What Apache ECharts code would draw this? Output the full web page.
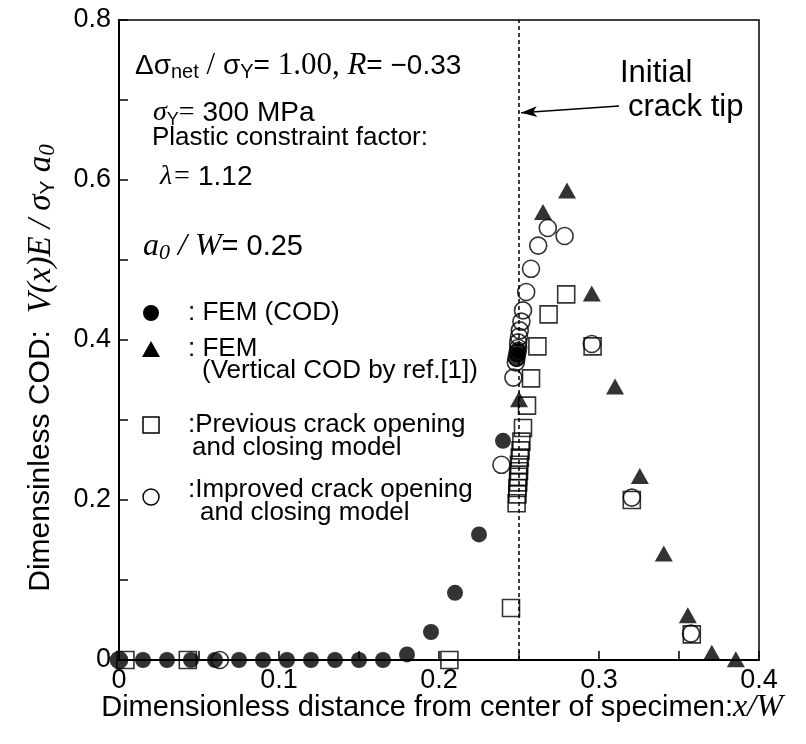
<!DOCTYPE html>
<html>
<head>
<meta charset="utf-8">
<script src="https://cdn.jsdelivr.net/npm/echarts@6/dist/echarts.min.js"></script>
<style>
html,body{margin:0;padding:0;background:#fff;}
#chart{width:806px;height:744px;}
</style>
</head>
<body>
<div id="chart"></div>
<script>
// ---- data ----
var xTicks = [0, 0.1, 0.2, 0.3, 0.4];
var yTicks = [0, 0.2, 0.4, 0.6, 0.8];
var crackTipX = 0.25;
var arrowFrom = [0.3125, 0.6925];
var arrowTo = [0.2513, 0.684];

var femCod = [[0,0],[0.015,0],[0.03,0],[0.045,0],[0.06,0],[0.075,0],[0.09,0],[0.105,0],[0.12,0],[0.135,0],[0.15,0],[0.165,0],[0.18,0.007],[0.195,0.035],[0.21,0.084],[0.225,0.157],[0.24,0.274],[0.2485,0.376],[0.249,0.382],[0.2495,0.388]];
var femVertical = [[0.25,0.326],[0.265,0.56],[0.28,0.587],[0.2955,0.458],[0.31,0.342],[0.3255,0.23],[0.3405,0.133],[0.3555,0.056],[0.3705,0.009],[0.3855,0.001]];
var previousModel = [[0.004,0],[0.043,0],[0.2065,0],[0.245,0.065],[0.2485,0.196],[0.249,0.207],[0.249,0.215],[0.2495,0.222],[0.2495,0.229],[0.25,0.236],[0.25,0.244],[0.2505,0.253],[0.251,0.262],[0.2515,0.273],[0.2525,0.29],[0.255,0.318],[0.2575,0.352],[0.2615,0.392],[0.2685,0.432],[0.2795,0.457],[0.296,0.392],[0.3205,0.2],[0.358,0.032]];
var improvedModel = [[0,0],[0.063,0],[0.239,0.244],[0.2465,0.353],[0.248,0.372],[0.2485,0.378],[0.249,0.384],[0.2495,0.39],[0.2495,0.397],[0.25,0.404],[0.2505,0.412],[0.2515,0.423],[0.2525,0.437],[0.2545,0.46],[0.2575,0.489],[0.262,0.518],[0.268,0.54],[0.2785,0.53],[0.2955,0.395],[0.3205,0.203],[0.3575,0.033]];

// ---- chart ----
var SANS = "'Liberation Sans', Arial, sans-serif";
var SERIF = "'Liberation Serif', 'Times New Roman', serif";
var chart = echarts.init(document.getElementById('chart'), null, {renderer:'canvas'});

function isTick(v, list){ for (var i=0;i<list.length;i++){ if (Math.abs(v-list[i])<1e-6) return true; } return false; }

var richBase = {
  s: {fontFamily: SANS, fontSize: 26, color:'#000', lineHeight: 30},
  s28: {fontFamily: SANS, fontSize: 28, color:'#000', lineHeight: 32},
  s29: {fontFamily: SANS, fontSize: 29, color:'#000', lineHeight: 34},
  s30: {fontFamily: SANS, fontSize: 30, color:'#000', lineHeight: 34},
  sub: {fontFamily: SANS, fontSize: 18, color:'#000', lineHeight: 10, verticalAlign:'bottom'},
  sub20: {fontFamily: SANS, fontSize: 20, color:'#000', lineHeight: 10, verticalAlign:'bottom'},
  sub21: {fontFamily: SANS, fontSize: 21, color:'#000', lineHeight: 10, verticalAlign:'bottom'},
  t: {fontFamily: SERIF, fontSize: 28, color:'#000', lineHeight: 30},
  t31: {fontFamily: SERIF, fontSize: 31, color:'#000', lineHeight: 32},
  ti: {fontFamily: SERIF, fontSize: 28, fontStyle:'italic', color:'#000', lineHeight: 30},
  ti31: {fontFamily: SERIF, fontSize: 31, fontStyle:'italic', color:'#000', lineHeight: 32},
  ti32: {fontFamily: SERIF, fontSize: 32, fontStyle:'italic', color:'#000', lineHeight: 34},
  ti33: {fontFamily: SERIF, fontSize: 33, fontStyle:'italic', color:'#000', lineHeight: 36},
  tisub: {fontFamily: SERIF, fontSize: 20, fontStyle:'italic', color:'#000', lineHeight: 10, verticalAlign:'bottom'},
  tisub22: {fontFamily: SERIF, fontSize: 22, fontStyle:'italic', color:'#000', lineHeight: 10, verticalAlign:'bottom'},
  tisub23: {fontFamily: SERIF, fontSize: 23, fontStyle:'italic', color:'#000', lineHeight: 10, verticalAlign:'bottom'}
};

function txt(x, y, text){
  return {type:'text', x:x, y:y, z:100, silent:true,
    style:{text:text, rich:richBase, align:'left', verticalAlign:'middle', fill:'#000'}};
}
function plain(x, y, text, size){
  return {type:'text', x:x, y:y, z:100, silent:true,
    style:{text:text, align:'left', verticalAlign:'middle', fill:'#000', font: size + 'px ' + SANS}};
}

var graphics = [
  txt(135, 66, '{s28|Δσ}{sub20|net}{t31| / }{s28|σ}{sub20|Y}{s28|= }{t31|1.00, }{ti31|R}{s28|= −0.33}'),
  txt(153, 113, '{ti|σ}{sub|Y}{t|=}{s28| 300 MPa}'),
  txt(152, 138, '{s|Plastic constraint factor:}'),
  txt(160, 177, '{ti|λ= }{s28|1.12}'),
  txt(143, 247, '{ti32|a}{tisub22|0}{ti32| / W}{s29|= 0.25}'),
  plain(620, 73, 'Initial', 31),
  plain(628, 107, 'crack tip', 31),
  // legend
  {type:'circle', shape:{cx:151, cy:313, r:8}, style:{fill:'#000'}, z:100},
  {type:'polygon', shape:{points:[[151,341],[160,357],[142,357]]}, style:{fill:'#000'}, z:100},
  {type:'rect', shape:{x:143, y:417, width:16, height:16}, style:{fill:'none', stroke:'#000', lineWidth:1.5}, z:100},
  {type:'circle', shape:{cx:151, cy:497, r:8}, style:{fill:'none', stroke:'#000', lineWidth:1.5}, z:100},
  txt(188, 313, '{s|: FEM (COD)}'),
  txt(188, 349, '{s|: FEM}'),
  txt(202, 371, '{s|(Vertical COD by ref.[1])}'),
  txt(188, 425, '{s|:Previous crack opening}'),
  txt(192, 448, '{s|and closing model}'),
  txt(188, 490, '{s|:Improved crack opening}'),
  txt(200, 513, '{s|and closing model}'),
  // axis titles
  {type:'text', x:442, y:708, z:100, silent:true, style:{text:'{s29|Dimensionless distance from center of specimen:}{ti32|x/W}', rich:richBase, align:'center', verticalAlign:'middle'}},
  {type:'text', x:41, y:368, rotation: Math.PI/2, z:100, silent:true, style:{text:'{s30|Dimensinless COD:  }{ti33|V(x)E / σ}{sub21|Y}{ti33| a}{tisub23|0}', rich:richBase, align:'center', verticalAlign:'middle'}}
];

var option = {
  animation: false,
  backgroundColor: '#fff',
  grid: {left:119, right:47, top:20, bottom:84, show:true, borderColor:'#000', borderWidth:1.5, backgroundColor:'transparent'},
  xAxis: {
    type:'value', min:0, max:0.4, interval:0.05,
    axisLine:{show:true, onZero:false, lineStyle:{color:'#000', width:2}},
    axisTick:{show:true, inside:true, length:9, lineStyle:{color:'#000', width:1.5}},
    splitLine:{show:false},
    axisLabel:{color:'#000', fontFamily:SANS, fontSize:27, margin:7,
      formatter:function(v){ return isTick(v, xTicks) ? String(Math.round(v*10)/10) : ''; }}
  },
  yAxis: {
    type:'value', min:0, max:0.8, interval:0.1,
    axisLine:{show:true, onZero:false, lineStyle:{color:'#000', width:2}},
    axisTick:{show:true, inside:true, length:9, lineStyle:{color:'#000', width:1.5}},
    splitLine:{show:false},
    axisLabel:{color:'#000', fontFamily:SANS, fontSize:27, margin:8,
      formatter:function(v){ return isTick(v, yTicks) ? String(Math.round(v*10)/10) : ''; }}
  },
  series: [
    {type:'scatter', name:'Previous crack opening and closing model', data: previousModel, symbol:'rect', symbolSize:17, clip:false,
      itemStyle:{color:'transparent', borderColor:'#000', borderWidth:1.6}, z:3,
      markLine:{silent:true, symbol:['none','none'], label:{show:false},
        lineStyle:{color:'#000', type:[4,3], width:1.5},
        data:[{xAxis: crackTipX}]}},
    {type:'scatter', name:'Improved crack opening and closing model', data: improvedModel, symbol:'circle', symbolSize:17, clip:false,
      itemStyle:{color:'transparent', borderColor:'#000', borderWidth:1.6}, z:4,
      markLine:{silent:true, symbol:['none','arrow'], symbolSize:[8,16], label:{show:false},
        lineStyle:{color:'#000', type:'solid', width:1.5},
        data:[[{coord: arrowFrom}, {coord: arrowTo}]]}},
    {type:'scatter', name:'FEM (COD)', data: femCod, symbol:'circle', symbolSize:16, clip:false,
      itemStyle:{color:'#000'}, z:5},
    {type:'scatter', name:'FEM (Vertical COD by ref.[1])', data: femVertical, symbol:'triangle', symbolSize:[18,16], clip:false,
      itemStyle:{color:'#000'}, z:5}
  ],
  graphic: graphics
};
chart.setOption(option);
</script>
</body>
</html>
